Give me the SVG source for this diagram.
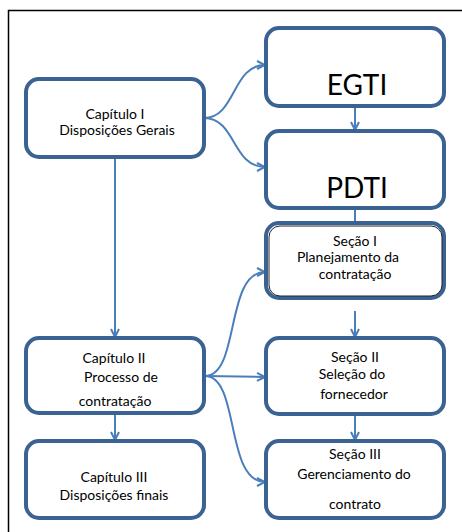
<svg xmlns="http://www.w3.org/2000/svg" width="462" height="532" viewBox="0 0 462 532">
<defs>
<style>
.box{fill:#fff;stroke:#3a6293;stroke-width:4}
.inner{fill:none;stroke:#222;stroke-width:1}
.con{fill:none;stroke:#4a7ebb;stroke-width:2}
.t{font-family:Lato,"Open Sans","Liberation Sans",sans-serif;font-size:14px;fill:#000;text-anchor:middle}
.big{font-family:Lato,"Open Sans","Liberation Sans",sans-serif;font-size:28px;fill:#000;text-anchor:middle}
</style>
<marker id="ah" viewBox="0 0 10 10" refX="9" refY="5" markerWidth="10" markerHeight="10" markerUnits="userSpaceOnUse" orient="auto">
<path d="M1,1 L9,5 L1,9" fill="none" stroke="#4a7ebb" stroke-width="2"/>
</marker>
</defs>
<rect width="462" height="532" fill="#fff"/>
<rect x="8.5" y="10.5" width="470" height="540" fill="none" stroke="#000" stroke-width="1.5"/>
<g id="connectors">
<path class="con" d="M204,118 C236,118 232,65 265,65" marker-end="url(#ah)"/>
<path class="con" d="M204,118 C236,118 232,167 265,167" marker-end="url(#ah)"/>
<path class="con" d="M355,106 L355,130" marker-end="url(#ah)"/>
<path class="con" d="M355,208 L355,223"/>
<path class="con" d="M115,157 L115,337" marker-end="url(#ah)"/>
<path class="con" d="M115,413 L115,440" marker-end="url(#ah)"/>
<path class="con" d="M205,376 C240,376 225,272 265,272" marker-end="url(#ah)"/>
<path class="con" d="M205,376 L265,377" marker-end="url(#ah)"/>
<path class="con" d="M205,376 C240,376 225,482 265,482" marker-end="url(#ah)"/>
<path class="con" d="M355,311 L355,337" marker-end="url(#ah)"/>
<path class="con" d="M355,414 L355,440" marker-end="url(#ah)"/>
</g>
<g id="cap1">
<rect class="box" x="26" y="79" width="178" height="78" rx="13"/>
<text class="t" x="115" y="119">Capítulo I</text>
<text class="t" x="117" y="135">Disposições Gerais</text>
</g>
<g id="egti">
<rect class="box" x="266" y="28" width="178" height="78" rx="13"/>
<text class="big" x="357" y="95">EGTI</text>
</g>
<g id="pdti">
<rect class="box" x="266" y="131" width="178" height="77" rx="13"/>
<text class="big" x="357" y="198">PDTI</text>
</g>
<g id="secao1">
<rect class="box" x="266" y="223" width="178" height="75" rx="13"/>
<rect class="inner" x="269" y="226" width="173" height="70" rx="11"/>
<text class="t" x="355" y="246">Seção I</text>
<text class="t" x="348" y="262">Planejamento da</text>
<text class="t" x="355" y="279">contratação</text>
</g>
<g id="cap2">
<rect class="box" x="26" y="338" width="178" height="75" rx="13"/>
<text class="t" x="114" y="363">Capítulo II</text>
<text class="t" x="121" y="382">Processo de</text>
<text class="t" x="115" y="406">contratação</text>
</g>
<g id="secao2">
<rect class="box" x="266" y="338" width="178" height="76" rx="13"/>
<text class="t" x="355" y="362">Seção II</text>
<text class="t" x="352" y="379">Seleção do</text>
<text class="t" x="354" y="399">fornecedor</text>
</g>
<g id="cap3">
<rect class="box" x="26" y="441" width="178" height="77" rx="13"/>
<text class="t" x="114" y="482">Capítulo III</text>
<text class="t" x="114" y="500">Disposições finais</text>
</g>
<g id="secao3">
<rect class="box" x="266" y="441" width="178" height="77" rx="13"/>
<text class="t" x="355" y="459">Seção III</text>
<text class="t" x="354" y="479">Gerenciamento do</text>
<text class="t" x="355" y="509">contrato</text>
</g>
</svg>
